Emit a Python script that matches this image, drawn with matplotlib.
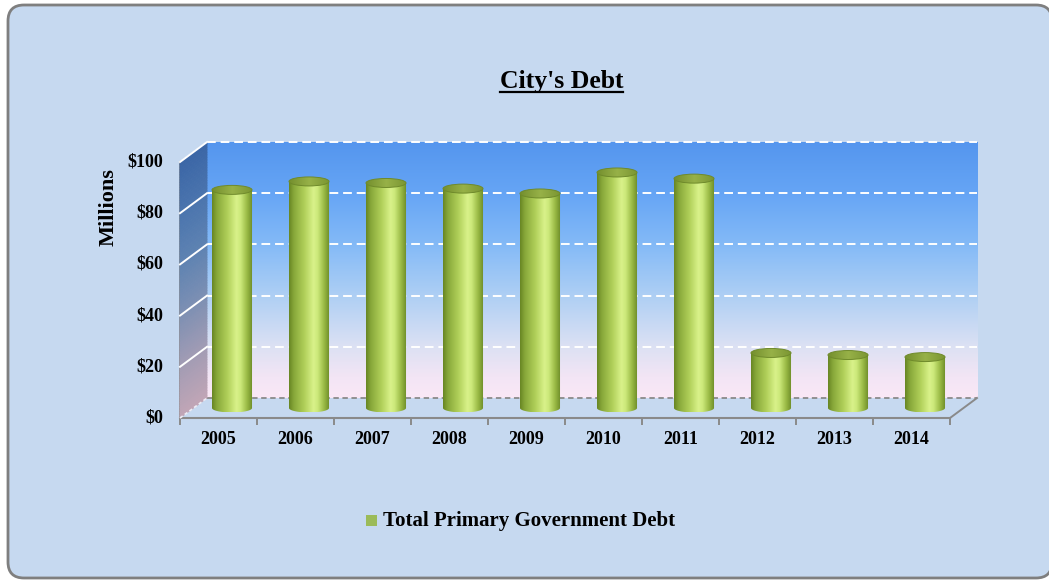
import numpy as np
import matplotlib
matplotlib.use("Agg")
import matplotlib.pyplot as plt
from matplotlib.patches import FancyBboxPatch, PathPatch, Ellipse, Rectangle
from matplotlib.path import Path
from matplotlib.transforms import Affine2D, IdentityTransform
from matplotlib.colors import LinearSegmentedColormap
from matplotlib.collections import PolyCollection
from matplotlib.lines import Line2D

# ---- data -------------------------------------------------------------
years = ["2005", "2006", "2007", "2008", "2009",
         "2010", "2011", "2012", "2013", "2014"]
debt_millions = [85.2, 88.5, 87.9, 85.7, 83.8, 92.0, 89.6, 21.5, 20.7, 19.9]
y_ticks = [0, 20, 40, 60, 80, 100]
y_tick_labels = ["$0", "$20", "$40", "$60", "$80", "$100"]
chart_title = "City's Debt"
axis_title = "Millions"
series_name = "Total Primary Government Debt"

# ---- figure -----------------------------------------------------------
W, H = 1049, 580
fig = plt.figure(figsize=(W / 100, H / 100), dpi=100)
fig.patch.set_facecolor("white")
PIX = IdentityTransform()
FONT = "Liberation Serif"


def fx(px):
    return px / W


def fy(py):
    return 1 - py / H


# rounded chart-area frame, kept underneath the axes
frame = FancyBboxPatch((8, H - 578), 1044, 573,
                       boxstyle="round,pad=0,rounding_size=16",
                       facecolor="#C6D9F0", edgecolor="#7F7F7F",
                       linewidth=2.0, transform=PIX, zorder=-10)
fig.add_artist(frame)

# front plane of the 3-D plot area
ax = fig.add_axes([fx(180), fy(418), 770 / W, 256 / H])
ax.set_xlim(-0.5, len(years) - 0.5)
ax.set_ylim(y_ticks[0], y_ticks[-1])
ax.set_autoscale_on(False)
ax.axis("off")

DX, DY = 27, 20  # depth offset of the back wall, in pixels


def depth(d):
    """Data transform pushed back by a fraction d of the plot depth."""
    return ax.transData + Affine2D().translate(DX * d, DY * d)


def disp(x, y, d=0.0):
    p = ax.transData.transform((x, y))
    return (p[0] + DX * d, p[1] + DY * d)


x_lo, x_hi = -0.5, len(years) - 0.5
y_lo, y_hi = y_ticks[0], y_ticks[-1]

# ---- back wall --------------------------------------------------------
wall_cmap = LinearSegmentedColormap.from_list("wall", [
    (0.00, "#FAE8F6"), (0.08, "#F3E5F5"), (0.20, "#DCE1F3"),
    (0.40, "#AECFF4"), (0.60, "#84BAF7"), (0.80, "#66A5F5"),
    (1.00, "#5596EE")])
grad_v = np.linspace(0, 1, 256).reshape(-1, 1)
ax.imshow(grad_v, extent=(x_lo, x_hi, y_lo, y_hi), origin="lower",
          aspect="auto", cmap=wall_cmap, interpolation="bilinear",
          transform=depth(1), zorder=0, clip_on=False)

# ---- side wall (sheared strips) ----------------------------------------
side_cmap = LinearSegmentedColormap.from_list("side", [
    (0.00, "#C2A6B6"), (0.20, "#A39CB4"), (0.40, "#7E90B3"),
    (0.60, "#5F83B2"), (0.80, "#4B75AE"), (1.00, "#3B66A6")])
levels = np.linspace(y_lo, y_hi, 101)
strips, cols = [], []
for k in range(len(levels) - 1):
    a, b = levels[k], levels[k + 1]
    strips.append([disp(x_lo, a), disp(x_lo, b), disp(x_lo, b, 1), disp(x_lo, a, 1)])
    cols.append(side_cmap((a + b) / 2 / y_hi))
side = PolyCollection(strips, facecolors=cols, edgecolors=cols,
                      linewidths=0.6, transform=PIX, zorder=1)
side.set_clip_on(False)
fig.add_artist(side)

# ---- gridlines --------------------------------------------------------
for t in y_ticks:
    if t == y_lo:
        ax.plot([x_lo, x_hi], [t, t], color="#8A8A8A", lw=1.3,
                dashes=(3, 2), transform=depth(1), clip_on=False, zorder=2)
        continue
    ax.plot([x_lo, x_hi], [t, t], color="white", lw=1.4,
            dashes=(4.5, 2.5), transform=depth(1), clip_on=False, zorder=2)
    p0, p1 = disp(x_lo, t), disp(x_lo, t, 1)
    fig.add_artist(Line2D([p0[0], p1[0]], [p0[1], p1[1]], color="white",
                          lw=1.4, transform=PIX, zorder=2))

# floor left edge (white) and right edge (grey)
p0, p1 = disp(x_lo, y_lo), disp(x_lo, y_lo, 1)
fig.add_artist(Line2D([p0[0], p1[0]], [p0[1], p1[1]], color="#EDEDF5",
                      lw=1.2, dashes=(2, 1.5), transform=PIX, zorder=2))
p0, p1 = disp(x_hi, y_lo), disp(x_hi, y_lo, 1)
fig.add_artist(Line2D([p0[0], p1[0]], [p0[1], p1[1]], color="#8A8A8A",
                      lw=1.4, transform=PIX, zorder=2))

# front axes lines with category tick marks
ax.plot([x_lo, x_hi], [y_lo, y_lo], color="#8A8A8A", lw=1.5,
        clip_on=False, zorder=3)
ax.plot([x_lo, x_lo], [y_lo, y_hi], color="#8A8A8A", lw=1.3,
        clip_on=False, zorder=3)
ax.plot(np.arange(len(years) + 1) - 0.5, np.zeros(len(years) + 1),
        linestyle="none", marker=3, markersize=5, markeredgewidth=1.4,
        color="#8A8A8A", clip_on=False, zorder=3)

# ---- cylinders --------------------------------------------------------
body_cmap = LinearSegmentedColormap.from_list("body", [
    (0.00, "#678523"), (0.12, "#88A83A"), (0.38, "#B1D05A"),
    (0.60, "#D9F28A"), (0.70, "#CCE97A"), (0.86, "#99B945"),
    (1.00, "#6A8926")])
top_cmap = LinearSegmentedColormap.from_list("top", [
    (0.00, "#748F2E"), (0.50, "#97B148"), (1.00, "#7A9532")])
grad_h = np.linspace(0, 1, 256).reshape(1, -1)

bar_w = 0.52
px_per_unit = disp(0, 1)[1] - disp(0, 0)[1]
half_h = 4.5 / px_per_unit  # semi-height of the end ellipses
cyl = depth(0.5)
theta = np.linspace(np.pi, 2 * np.pi, 60)

for i, v in enumerate(debt_millions):
    xl, xr = i - bar_w / 2, i + bar_w / 2
    arc = np.column_stack([i + bar_w / 2 * np.cos(theta), half_h * np.sin(theta)])
    verts = np.vstack([[xl, v], arc, [xr, v], [xl, v]])
    outline = PathPatch(Path(verts, closed=True), transform=cyl,
                        facecolor="none", edgecolor="none")
    body = ax.imshow(grad_h, extent=(xl, xr, -half_h, v), aspect="auto",
                     cmap=body_cmap, interpolation="bilinear",
                     transform=cyl, zorder=4)
    body.set_clip_path(outline)

    cap = Ellipse((i, v), bar_w, 2 * half_h, transform=cyl,
                  facecolor="none", edgecolor="#6F8A2B", lw=0.7, zorder=6)
    cap_fill = ax.imshow(grad_h, extent=(xl, xr, v - half_h, v + half_h),
                         aspect="auto", cmap=top_cmap, interpolation="bilinear",
                         transform=cyl, zorder=5)
    cap_fill.set_clip_path(cap)
    ax.add_patch(cap)

# ---- text -------------------------------------------------------------
for t, lab in zip(y_ticks, y_tick_labels):
    ax.text(x_lo, t, lab, transform=ax.transData + Affine2D().translate(-17, 0),
            ha="right", va="center", fontsize=13, fontweight="bold",
            family=FONT, color="black", clip_on=False)

for i, lab in enumerate(years):
    ax.text(i, y_lo, lab, transform=ax.transData + Affine2D().translate(0, -21),
            ha="center", va="center", fontsize=13, fontweight="bold",
            family=FONT, color="black", clip_on=False)

fig.text(fx(109), fy(207), axis_title, rotation=90, ha="center", va="center",
         fontsize=16, fontweight="bold", family=FONT)

title = fig.text(fx(561.5), fy(88.3), chart_title, ha="center", va="baseline",
                 fontsize=18.5, fontweight="bold", family=FONT)

fig.add_artist(Rectangle((366, H - 526), 11, 11, facecolor="#9BBB59",
                         edgecolor="none", transform=PIX))
fig.text(fx(383), fy(526), series_name, ha="left", va="baseline",
         fontsize=15, fontweight="bold", family=FONT)

# underline the title
fig.canvas.draw()
bb = title.get_window_extent(fig.canvas.get_renderer())
uy = H - 92.3
fig.add_artist(Line2D([bb.x0, bb.x1], [uy, uy], color="black", lw=1.6,
                      transform=PIX))

fig.savefig("out.png", dpi=100)
